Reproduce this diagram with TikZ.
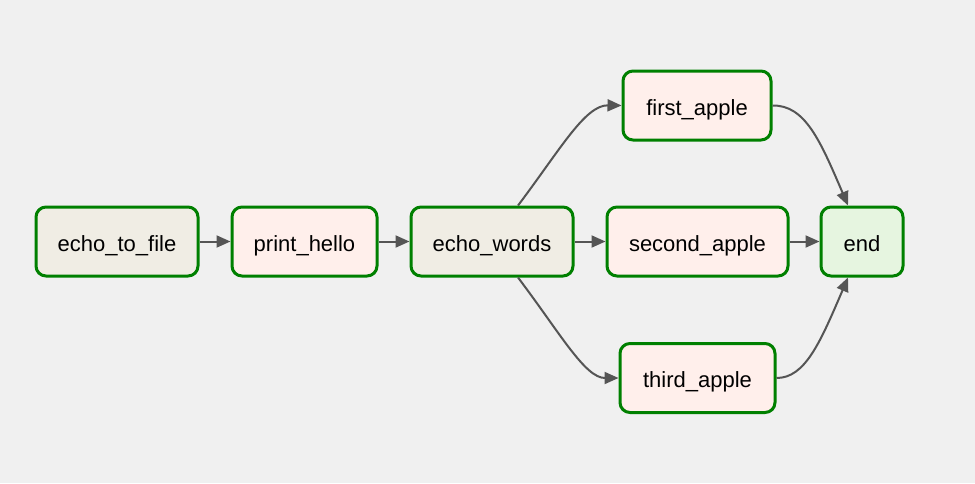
\documentclass[tikz,border=0pt]{standalone}
\usepackage{fontspec}
\setmainfont{Liberation Sans}
\usetikzlibrary{arrows.meta}
\definecolor{bg}{HTML}{F0F0F0}
\definecolor{edgegreen}{HTML}{008000}
\definecolor{fillbeige}{HTML}{F0EDE4}
\definecolor{fillpink}{HTML}{FFEFEB}
\definecolor{fillgreen}{HTML}{E6F5E0}
\definecolor{linegray}{HTML}{555555}
\tikzset{
  task/.style={draw=edgegreen, line width=3pt, rounded corners=10pt, minimum height=69pt, inner sep=0pt,
    font=\fontsize{22}{26}\selectfont, text=black, text height=20pt, text depth=1pt},
  conn/.style={draw=linegray, line width=2pt, -{Triangle[length=14pt,width=12pt]}}
}
\begin{document}
\begin{tikzpicture}[x=1pt,y=-1pt]
\fill[bg] (0,0) rectangle (975,483);
\useasboundingbox (0,0) rectangle (975,483);
\node[task, fill=fillbeige, minimum width=162pt] (etf) at (117,241.5) {echo\_to\_file};
\node[task, fill=fillpink, minimum width=145pt] (ph) at (304.5,241.5) {print\_hello};
\node[task, fill=fillbeige, minimum width=162pt] (ew) at (492,241.5) {echo\_words};
\node[task, fill=fillpink, minimum width=181pt] (sa) at (697.5,241.5) {second\_apple};
\node[task, fill=fillgreen, minimum width=82pt] (end) at (862,241.5) {end};
\node[task, fill=fillpink, minimum width=148pt] (fa) at (697,105.5) {first\_apple};
\node[task, fill=fillpink, minimum width=155pt] (ta) at (697.5,378) {third\_apple};
\draw[conn] (etf) -- (ph);
\draw[conn] (ph) -- (ew);
\draw[conn] (ew) -- (sa);
\draw[conn] (sa) -- (end);
\draw[conn] ([xshift=26pt]ew.north) .. controls (560,150) and (585,105) .. (fa.west);
\draw[conn] ([xshift=26pt]ew.south) .. controls (560,333) and (585,378) .. (ta.west);
\draw[conn] (fa.east) .. controls (805,105) and (820,140) .. ([xshift=-14pt]end.north);
\draw[conn] (ta.east) .. controls (805,378) and (820,343) .. ([xshift=-14pt]end.south);
\end{tikzpicture}
\end{document}
